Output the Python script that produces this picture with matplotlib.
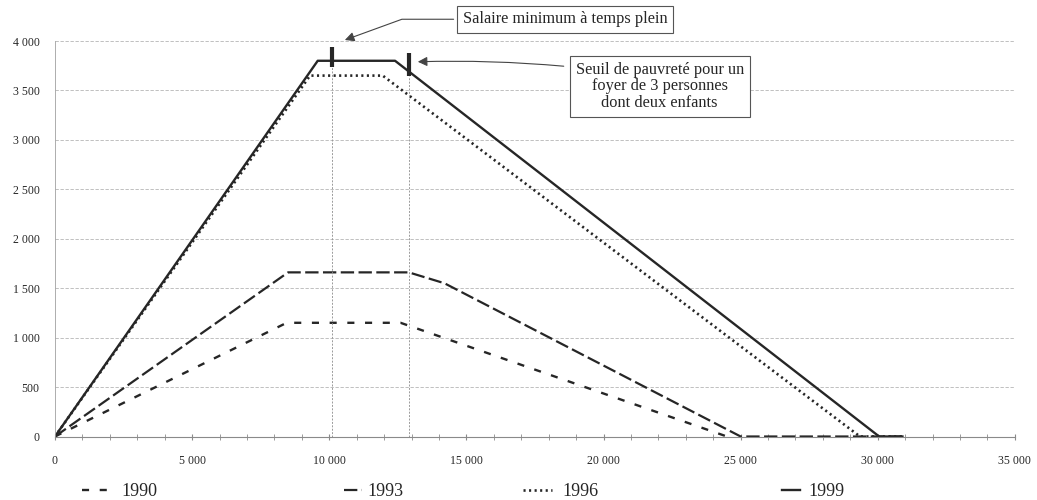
import matplotlib.pyplot as plt
from matplotlib.ticker import MultipleLocator, FuncFormatter

# revenu annuel (x) et crédit d'impôt (y)
revenu_1990 = [0, 8450, 12600, 24500]
credit_1990 = [0, 1150, 1150, 0]
revenu_1993 = [0, 8500, 12900, 14200, 25000, 31000]
credit_1993 = [0, 1660, 1660, 1550, 0, 0]
revenu_1996 = [0, 9300, 11950, 29350, 31000]
credit_1996 = [0, 3650, 3650, 0, 0]
revenu_1999 = [0, 9580, 12400, 30050, 30900]
credit_1999 = [0, 3800, 3800, 0, 0]

annees = ['1990', '1993', '1996', '1999']
salaire_minimum = 10100
seuil_pauvrete = 12900

plt.rcParams['font.family'] = ['Liberation Serif', 'DejaVu Serif']
ink = '#262626'
styles = [dict(lw=1.7, ls=(0, (3, 4.5))),
          dict(lw=1.6, ls=(0, (6, 2))),
          dict(lw=1.9, ls=(0, (0.8, 1.3))),
          dict(lw=1.7, ls='-')]

fig = plt.figure(figsize=(10.37, 5), dpi=100)
ax = fig.add_axes([0.053, 0.127, 0.9257, 0.791])

lines = []
for rev, cred, st, an in zip([revenu_1990, revenu_1993, revenu_1996, revenu_1999],
                             [credit_1990, credit_1993, credit_1996, credit_1999], styles, annees):
    l, = ax.plot(rev, cred, color=ink, label=an, **st)
    lines.append(l)

# repères verticaux
ax.vlines([salaire_minimum, seuil_pauvrete], 0, [3740, 3650], color='#9a9a9a', lw=0.7, ls=(0, (2, 1.5)))
ax.vlines(salaire_minimum, 3740, 3940, color=ink, lw=3)
ax.vlines(seuil_pauvrete, 3650, 3880, color=ink, lw=3)

ax.set_xlim(0, 35000)
ax.set_ylim(0, 4000)
ax.xaxis.set_major_locator(MultipleLocator(5000))
ax.xaxis.set_minor_locator(MultipleLocator(1000))
ax.yaxis.set_major_locator(MultipleLocator(500))
fmt = FuncFormatter(lambda v, p: f"{int(v):,}".replace(',', ' '))
ax.xaxis.set_major_formatter(fmt)
ax.yaxis.set_major_formatter(fmt)
ax.yaxis.grid(True, color='#b5b5b5', lw=0.6, ls=(0, (4, 2)))
ax.set_axisbelow(True)

for s in ['top', 'right']:
    ax.spines[s].set_visible(False)
ax.spines['left'].set_color('#a0a0a0')
ax.spines['left'].set_linewidth(0.6)
ax.spines['bottom'].set_color('#8a8a8a')
ax.spines['bottom'].set_linewidth(0.8)
ax.tick_params(axis='x', which='both', direction='inout', length=5, color='#8a8a8a',
               pad=11, labelsize=8.5, labelcolor=ink)
ax.tick_params(axis='y', length=0, pad=11, labelsize=8.5, labelcolor=ink)

# annotations
box = dict(boxstyle='square,pad=0.35', fc='white', ec='#555555', lw=0.8)
ax.annotate('Salaire minimum à temps plein', xy=(10570, 4010), xytext=(18590, 4220),
            fontsize=11.8, ha='center', va='center', color=ink, bbox=box,
            annotation_clip=False,
            arrowprops=dict(arrowstyle='-|>', color='#444444', lw=0.8, mutation_scale=14,
                            connectionstyle='angle,angleA=0,angleB=20,rad=0', shrinkB=0))
ax.text(22050, 3540, 'Seuil de pauvreté pour un\nfoyer de 3 personnes\ndont deux enfants',
        fontsize=11.8, ha='center', va='center', color=ink, bbox=box, linespacing=1.05)
ax.annotate('', xy=(13230, 3790), xytext=(18550, 3745), annotation_clip=False,
            arrowprops=dict(arrowstyle='-|>', color='#444444', lw=0.8, mutation_scale=14,
                            connectionstyle='arc3,rad=0.03', shrinkA=0, shrinkB=0))

# légende : une entrée par position
leg_x = [82, 344, 523, 782]
leg_len = [1.4, 1.0, 1.6, 1.0]
leg_pad = [0.8, 0.3, 0.6, 0.45]
for l, an, x, hl, tp in zip(lines, annees, leg_x, leg_len, leg_pad):
    lg = fig.legend([l], [an], loc='center left', bbox_to_anchor=(x / 1037, 8 / 500),
                    frameon=False, fontsize=13, handlelength=hl, handletextpad=tp,
                    borderpad=0, borderaxespad=0, labelcolor=ink)

fig.savefig('out.png', dpi=100)
